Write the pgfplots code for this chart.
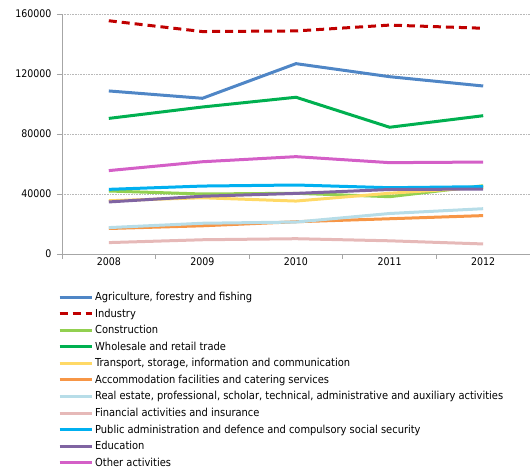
\documentclass[border=0pt]{standalone}
\usepackage{pgfplots}
\pgfplotsset{compat=1.18}
\usepackage{fontspec}
\setmainfont{DejaVu Sans Condensed}
\definecolor{cAgr}{HTML}{4F86C6}
\definecolor{cInd}{HTML}{C00000}
\definecolor{cCon}{HTML}{92D050}
\definecolor{cWho}{HTML}{00B050}
\definecolor{cTra}{HTML}{FFD966}
\definecolor{cAcc}{HTML}{F79646}
\definecolor{cRea}{HTML}{B7DDE8}
\definecolor{cFin}{HTML}{E6B9B8}
\definecolor{cPub}{HTML}{00B0F0}
\definecolor{cEdu}{HTML}{8064A2}
\definecolor{cOth}{HTML}{D45FC7}
\begin{document}
\begin{tikzpicture}
\useasboundingbox (-62pt,-217pt) rectangle (468pt,254pt);
\begin{axis}[
  scale only axis, width=468pt, height=240pt,
  at={(0pt,0pt)}, anchor=south west,
  xmin=-0.5, xmax=4.5, ymin=0, ymax=160000,
  axis x line=bottom, axis y line=left,
  axis line style={-, draw=gray!70, line width=0.8pt},
  xtick={-0.5,0.5,1.5,2.5,3.5,4.5}, xticklabels={},
  extra x ticks={0,1,2,3,4},
  extra x tick labels={2008,2009,2010,2011,2012},
  extra x tick style={major tick length=0pt, grid=none},
  ytick={0,40000,80000,120000,160000},
  yticklabels={0,40000,80000,120000,160000},
  scaled y ticks=false,
  tick align=outside, major tick length=5pt,
  tick style={draw=gray!70, line width=0.8pt},
  ymajorgrids, grid style={draw=gray!55, line width=0.6pt, densely dotted},
  tick label style={font=\fontsize{10.5}{12}\selectfont},
  yticklabel style={xshift=-2pt},
  legend style={at={(-4pt,-36pt)}, anchor=north west, draw=none, fill=none,
    font=\fontsize{11}{13}\selectfont, row sep=2.7pt, inner sep=0pt},
  legend cell align=left,
  legend image code/.code={\draw[#1] (0pt,0pt) -- (32pt,0pt);},
  every axis plot/.append style={line width=3pt},
  clip=false,
]
\addplot[cAgr] coordinates {(0,108700) (1,103800) (2,126900) (3,118200) (4,112000)};
\addlegendentry{Agriculture, forestry and fishing}
\addplot[cInd, dash pattern=on 8pt off 5pt] coordinates {(0,155500) (1,148300) (2,148700) (3,152600) (4,150500)};
\addlegendentry{Industry}
\addplot[cCon] coordinates {(0,42000) (1,40000) (2,40500) (3,38200) (4,45500)};
\addlegendentry{Construction}
\addplot[cWho] coordinates {(0,90400) (1,98000) (2,104500) (3,84500) (4,92200)};
\addlegendentry{Wholesale and retail trade}
\addplot[cTra] coordinates {(0,35500) (1,37500) (2,35300) (3,40500) (4,44500)};
\addlegendentry{Transport, storage, information and communication}
\addplot[cAcc] coordinates {(0,17000) (1,18800) (2,21500) (3,23500) (4,25600)};
\addlegendentry{Accommodation facilities and catering services}
\addplot[cRea] coordinates {(0,17600) (1,20500) (2,21300) (3,27000) (4,30200)};
\addlegendentry{Real estate, professional, scholar, technical, administrative and auxiliary activities}
\addplot[cFin] coordinates {(0,7600) (1,9500) (2,10200) (3,8800) (4,6700)};
\addlegendentry{Financial activities and insurance}
\addplot[cPub] coordinates {(0,43100) (1,45300) (2,46000) (3,44200) (4,44900)};
\addlegendentry{Public administration and defence and compulsory social security}
\addplot[cEdu] coordinates {(0,34700) (1,38500) (2,40400) (3,43000) (4,43300)};
\addlegendentry{Education}
\addplot[cOth] coordinates {(0,55600) (1,61500) (2,64900) (3,60900) (4,61300)};
\addlegendentry{Other activities}
\end{axis}
\end{tikzpicture}
\end{document}
